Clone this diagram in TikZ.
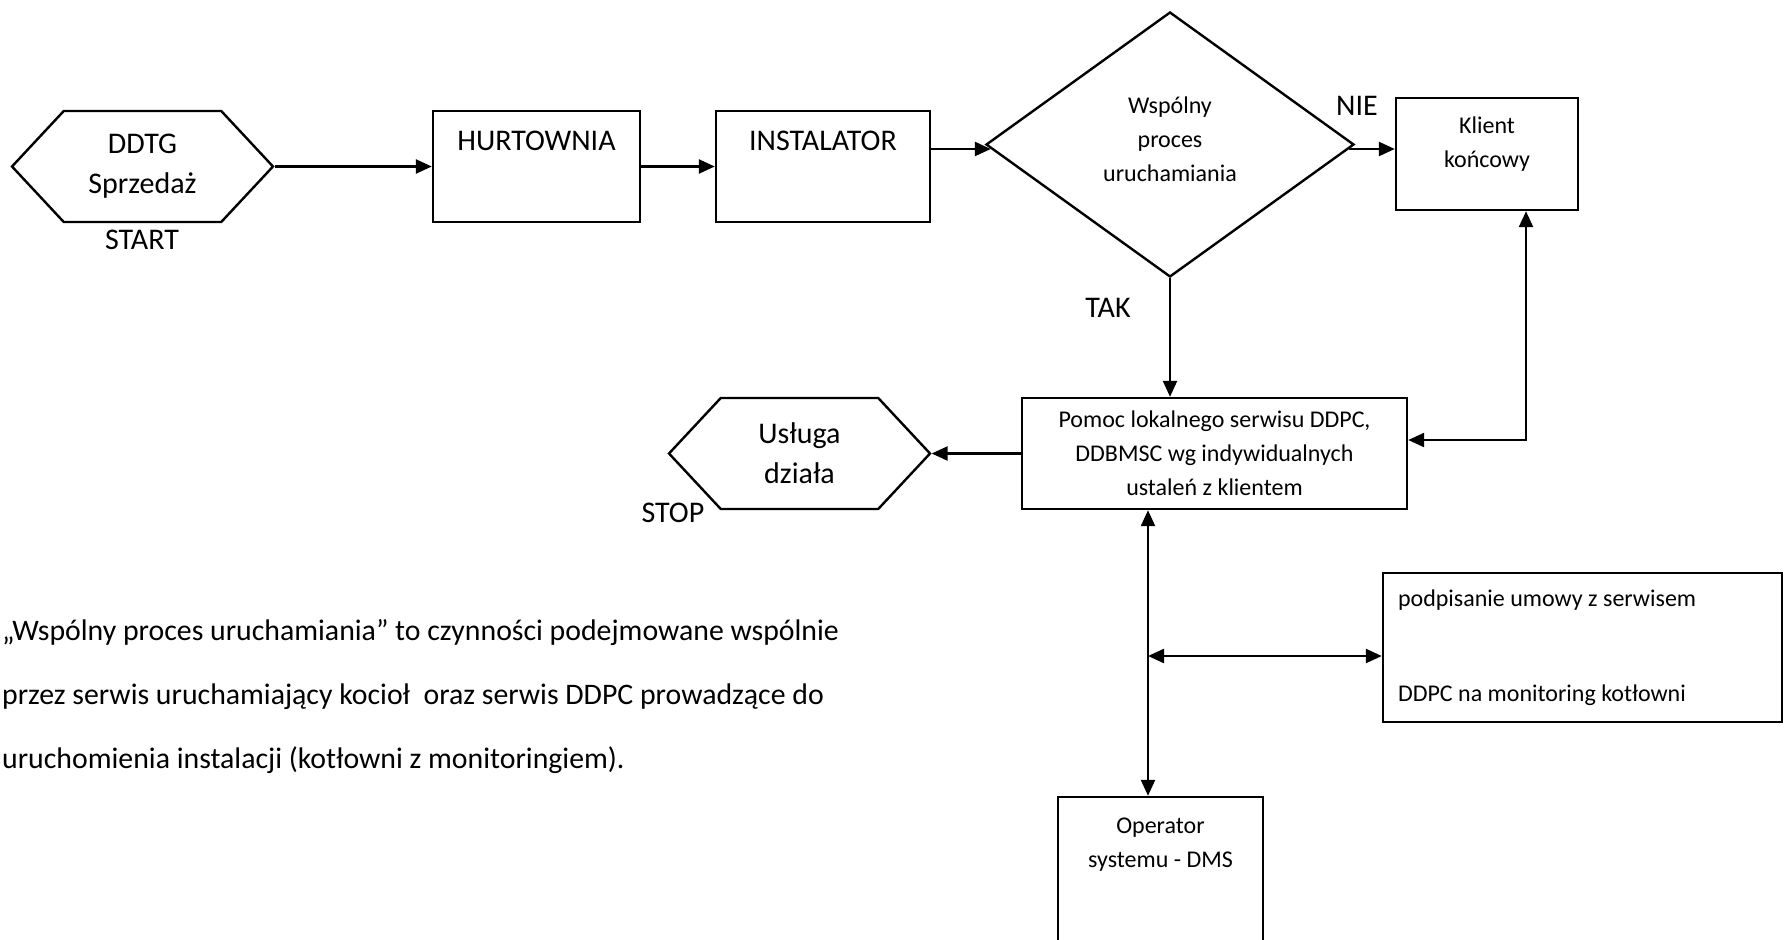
\documentclass[tikz,border=0pt]{standalone}
\usepackage{fontspec}
\setmainfont{Carlito}
\usetikzlibrary{shapes.geometric,shapes.symbols,arrows.meta}

\begin{document}
\begin{tikzpicture}
            [x=1pt,y=-1pt,line width=2.4pt,
             big/.style={font=\fontsize{30}{40}\selectfont},
             small/.style={font=\fontsize{24}{34}\selectfont},
             box/.style={draw,rectangle,inner sep=0pt,align=center},
             hexa/.style={draw,signal,signal to=west and east,signal pointer angle=94,
                          inner sep=0pt,align=center,minimum width=261pt,minimum height=111pt},
             decide/.style={draw,diamond,inner sep=0pt,align=center,
                            minimum width=368pt,minimum height=265pt},
             arr/.style={-{Triangle[length=16pt,width=14pt]}},
             arrboth/.style={{Triangle[length=16pt,width=14pt]}-{Triangle[length=16pt,width=14pt]}}]
            \useasboundingbox (0,0) rectangle (1784,939);
            \node[hexa,big] (ddtg) at (142.5,166.5) {DDTG\\Sprzedaż};
            \node[big] (start) at (142,240) {START};
            \node[box,big,minimum width=207pt,text height=39pt,text depth=72pt] (hurt) at (536.5,166.5) {HURTOWNIA};
            \node[box,big,minimum width=214pt,text height=39pt,text depth=72pt] (inst) at (823,166.5) {INSTALATOR};
            \node[decide,small,text depth=11pt] (dec) at (1170,144.5) {Wspólny\\proces\\uruchamiania};
            \node[big] (nie) at (1357,106) {NIE};
            \node[box,small,minimum width=182pt,text height=69pt,text depth=43pt] (klient) at (1487,154) {Klient\\końcowy};
            \node[big] (tak) at (1108,308) {TAK};
            \node[box,small,minimum width=385pt,minimum height=111pt] (pomoc) at (1214.5,453.5)
                {Pomoc lokalnego serwisu DDPC,\\DDBMSC wg indywidualnych\\ustaleń z klientem};
            \node[hexa,big] (usluga) at (799.5,453.5) {Usługa\\działa};
            \node[big] (stop) at (673,513) {STOP};
            \node[box,small,inner xsep=15pt,text width=369pt,align=flush left,text height=33pt,text depth=116pt] (umowa) at (1582.5,647.5)
                {podpisanie umowy z serwisem\\[61pt]DDPC na monitoring kotłowni};
            \node[box,small,minimum width=205pt,text height=70pt,text depth=93pt] (oper) at (1160.5,878.5) {Operator\\systemu - DMS};
            \node[font=\fontsize{29.8}{64}\selectfont,align=left,inner sep=0pt,anchor=north west] (note) at (1,618)
                {„Wspólny proces uruchamiania” to czynności podejmowane wspólnie\\
                 przez serwis uruchamiający kocioł \ oraz serwis DDPC prowadzące do\\
                 uruchomienia instalacji (kotłowni z monitoringiem).};
            \coordinate (jct) at (1148,656);
            % main flow
            \draw[arr] (ddtg.east) -- (hurt.west);
            \draw[arr] (hurt.east) -- (inst.west);
            \draw[arr] ([yshift=-4.5pt]inst.east |- dec.west) -- ([shift={(6pt,-4.5pt)}]dec.west);
            \draw[arr] ([shift={(-6pt,-4.5pt)}]dec.east) -- ([yshift=-4.5pt]dec.east -| klient.west);
            \draw[arr] (dec.south) -- (dec.south |- pomoc.north);
            \draw[arr] (pomoc.west) -- (usluga.east);
            % links
            \draw[arrboth] ([yshift=13.5pt]pomoc.east) -| ([xshift=39pt]klient.south);
            \draw[arrboth] (jct |- pomoc.south) -- (jct |- oper.north);
            \draw[arrboth] (jct) -- (jct -| umowa.west);
        \end{tikzpicture}
\end{document}
